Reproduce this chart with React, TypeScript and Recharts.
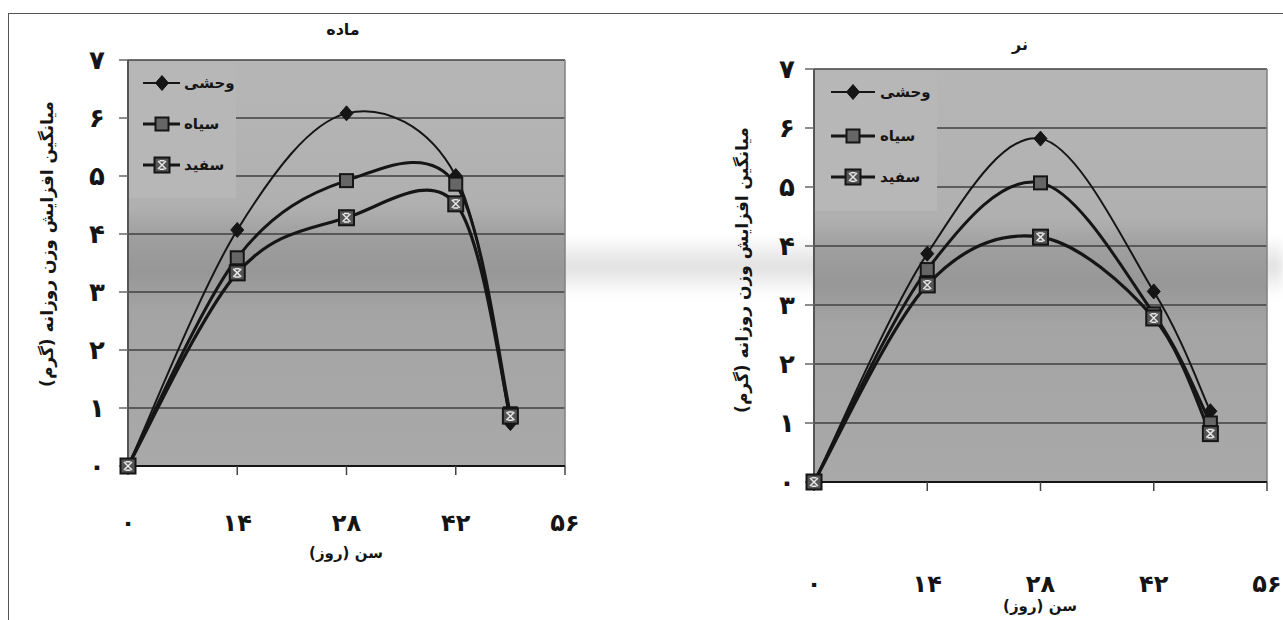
import React from 'react';
import { LineChart, Line, XAxis, YAxis, CartesianGrid, Legend, ReferenceLine } from 'recharts';

// ---------- data ----------
const days = [0, 14, 28, 42, 49];
const femaleWild = [0, 4.07, 6.08, 5.0, 0.74];
const femaleBlack = [0, 3.59, 4.92, 4.86, 0.9];
const femaleWhite = [0, 3.33, 4.28, 4.52, 0.86];
const maleWild = [0, 3.87, 5.82, 3.23, 1.2];
const maleBlack = [0, 3.6, 5.07, 2.85, 1.0];
const maleWhite = [0, 3.34, 4.15, 2.78, 0.82];

const seriesKeys = ['wild', 'black', 'white'];
const seriesNames = ['وحشی', 'سیاه', 'سفید'];
const xTicks = [0, 14, 28, 42, 56];
const xTickLabels = ['۰', '۱۴', '۲۸', '۴۲', '۵۶'];
const yTicks = [0, 1, 2, 3, 4, 5, 6, 7];
const yTickLabels = ['۰', '۱', '۲', '۳', '۴', '۵', '۶', '۷'];
const femaleTitle = 'ماده';
const maleTitle = 'نر';
const xAxisTitle = 'سن (روز)';
const yAxisTitle = 'میانگین افزایش وزن روزانه (گرم)';

const buildRows = (wild: number[], black: number[], white: number[]) =>
  days.map((d, i) => ({ day: d, wild: wild[i], black: black[i], white: white[i] }));

const femaleRows = buildRows(femaleWild, femaleBlack, femaleWhite);
const maleRows = buildRows(maleWild, maleBlack, maleWhite);

// ---------- styling ----------
const FONT = '"DejaVu Sans", "Noto Sans", sans-serif';
const INK = '#151515';

// Excel-like smoothed line (Catmull-Rom / cardinal tension 0)
function excelSmooth(context: any) {
  let pts: number[][] = [];
  return {
    areaStart() {},
    areaEnd() {},
    lineStart() {
      pts = [];
    },
    point(x: number, y: number) {
      pts.push([+x, +y]);
    },
    lineEnd() {
      const n = pts.length;
      if (!n) return;
      context.moveTo(pts[0][0], pts[0][1]);
      for (let i = 0; i < n - 1; i++) {
        const p0 = pts[i - 1] || pts[i];
        const p1 = pts[i];
        const p2 = pts[i + 1];
        const p3 = pts[i + 2] || pts[i + 1];
        context.bezierCurveTo(
          p1[0] + (p2[0] - p0[0]) / 6,
          p1[1] + (p2[1] - p0[1]) / 6,
          p2[0] - (p3[0] - p1[0]) / 6,
          p2[1] - (p3[1] - p1[1]) / 6,
          p2[0],
          p2[1]
        );
      }
    },
  };
}

function markerShape(kind: number, cx: number, cy: number, key?: string) {
  if (kind === 0) {
    return (
      <path
        key={key}
        d={`M${cx},${cy - 7.5} L${cx + 6.5},${cy} L${cx},${cy + 7.5} L${cx - 6.5},${cy} Z`}
        fill={INK}
        stroke={INK}
        strokeWidth={1}
      />
    );
  }
  if (kind === 1) {
    return (
      <rect key={key} x={cx - 6.5} y={cy - 6.5} width={13} height={13} fill="#666" stroke={INK} strokeWidth={2} />
    );
  }
  return (
    <g key={key}>
      <rect x={cx - 7.5} y={cy - 7.5} width={15} height={15} fill="#555" stroke={INK} strokeWidth={2} />
      <path
        d={`M${cx - 4},${cy - 4} L${cx + 4},${cy + 4} M${cx + 4},${cy - 4} L${cx - 4},${cy + 4} M${cx - 2.5},${cy - 4.2} L${cx + 2.5},${cy - 4.2} M${cx - 2.5},${cy + 4.2} L${cx + 2.5},${cy + 4.2}`}
        fill="none"
        stroke="#e6e6e6"
        strokeWidth={1.5}
      />
    </g>
  );
}

const dotRenderer = (kind: number) => (props: any) => {
  const { cx, cy, index } = props;
  if (cx == null || cy == null) return <g key={`e-${kind}-${index}`} />;
  return markerShape(kind, cx, cy, `m-${kind}-${index}`);
};

const lineWidths = [2, 3, 3.2];

type Cfg = {
  width: number;
  height: number;
  margin: { top: number; right: number; bottom: number; left: number };
  xAxisHeight: number;
  yLabelDx: number;
  xLabelDy: number;
  xTitle: { x: number; y: number };
  yTitle: { x: number; y: number };
  legend: { x: number; y: number; w: number; h: number; rows: number[]; lx1: number; lx2: number; mx: number; tx: number };
  gradId: string;
};

function GrowthChart({ rows, cfg }: { rows: any[]; cfg: Cfg }) {
  const lg = cfg.legend;
  const renderLegend = () => (
    <svg width={lg.w} height={lg.h} style={{ display: 'block' }}>
      <rect x={0} y={0} width={lg.w} height={lg.h} fill="#b7b7b7" />
      {seriesNames.map((name, i) => (
        <g key={name}>
          <line x1={lg.lx1} x2={lg.lx2} y1={lg.rows[i]} y2={lg.rows[i]} stroke={INK} strokeWidth={lineWidths[i]} />
          {markerShape(i, lg.mx, lg.rows[i])}
          <text x={lg.tx} y={lg.rows[i] + 5} fontSize={15} fontWeight="bold" fontFamily={FONT} fill={INK}>
            {name}
          </text>
        </g>
      ))}
    </svg>
  );

  const YTick = (p: any) => {
    const idx = yTicks.indexOf(p.payload.value);
    return (
      <text x={p.x + cfg.yLabelDx} y={p.y + 9} textAnchor="middle" fontSize={26} fontWeight="bold" fontFamily={FONT} fill={INK}>
        {yTickLabels[idx]}
      </text>
    );
  };
  const XTick = (p: any) => {
    const idx = xTicks.indexOf(p.payload.value);
    return (
      <text x={p.x} y={p.y + cfg.xLabelDy} textAnchor="middle" fontSize={24} fontWeight="bold" fontFamily={FONT} fill={INK}>
        {xTickLabels[idx]}
      </text>
    );
  };

  return (
    <LineChart width={cfg.width} height={cfg.height} data={rows} margin={cfg.margin}>
      <defs>
        <linearGradient id={cfg.gradId} x1="0" y1="0" x2="0" y2="1">
          <stop offset="0" stopColor="#b6b6b6" />
          <stop offset="0.36" stopColor="#b0b0b0" />
          <stop offset="0.44" stopColor="#9e9e9e" />
          <stop offset="0.52" stopColor="#979797" />
          <stop offset="0.62" stopColor="#a4a4a4" />
          <stop offset="1" stopColor="#a9a9a9" />
        </linearGradient>
      </defs>
      <CartesianGrid vertical={false} stroke="#404040" strokeWidth={1.6} fill={`url(#${cfg.gradId})`} fillOpacity={1} />
      <XAxis
        dataKey="day"
        type="number"
        domain={[0, 56]}
        ticks={xTicks}
        height={cfg.xAxisHeight}
        axisLine={{ stroke: INK, strokeWidth: 2 }}
        tickLine={{ stroke: '#444', strokeWidth: 1.5 }}
        tickSize={9}
        tick={XTick}
        interval={0}
        label={() => (
          <text x={cfg.xTitle.x} y={cfg.xTitle.y} textAnchor="middle" fontSize={15} fontWeight="bold" fontFamily={FONT} fill={INK}>
            {xAxisTitle}
          </text>
        )}
      />
      <YAxis
        type="number"
        domain={[0, 7]}
        ticks={yTicks}
        width={60}
        axisLine={{ stroke: '#555', strokeWidth: 2 }}
        tickLine={{ stroke: '#666', strokeWidth: 1.5 }}
        tickSize={9}
        tick={YTick}
        interval={0}
        label={() => (
          <text
            x={cfg.yTitle.x}
            y={cfg.yTitle.y}
            transform={`rotate(-90 ${cfg.yTitle.x} ${cfg.yTitle.y})`}
            textAnchor="middle"
            fontSize={17}
            fontWeight="bold"
            fontFamily={FONT}
            fill={INK}
          >
            {yAxisTitle}
          </text>
        )}
      />
      <ReferenceLine x={56} stroke="#808080" strokeWidth={1.5} />
      <Legend
        layout="vertical"
        align="center"
        verticalAlign="middle"
        content={renderLegend}
        wrapperStyle={{ left: lg.x, top: lg.y, width: lg.w, height: lg.h, margin: 0, padding: 0 }}
      />
      {seriesKeys.map((k, i) => (
        <Line
          key={k}
          dataKey={k}
          name={seriesNames[i]}
          type={excelSmooth as any}
          stroke={INK}
          strokeWidth={lineWidths[i]}
          dot={dotRenderer(i)}
          activeDot={false}
          isAnimationActive={false}
        />
      ))}
    </LineChart>
  );
}

const femaleCfg: Cfg = {
  width: 600,
  height: 620,
  margin: { top: 60, right: 35, bottom: 54, left: 68 },
  xAxisHeight: 100,
  yLabelDx: -20,
  xLabelDy: 54,
  xTitle: { x: 346, y: 558 },
  yTitle: { x: 53, y: 244 },
  legend: { x: 129, y: 63, w: 107, h: 135, rows: [20, 61, 102], lx1: 14, lx2: 51, mx: 33, tx: 55 },
  gradId: 'plotFillF',
};

const maleCfg: Cfg = {
  width: 643,
  height: 620,
  margin: { top: 69, right: 16, bottom: 8, left: 114 },
  xAxisHeight: 130,
  yLabelDx: -16,
  xLabelDy: 99,
  xTitle: { x: 400, y: 611 },
  yTitle: { x: 108, y: 270 },
  legend: { x: 175, y: 71, w: 122, h: 140, rows: [21, 65, 106], lx1: 16, lx2: 60, mx: 38, tx: 65 },
  gradId: 'plotFillM',
};

export default function App() {
  return (
    <div style={{ position: 'absolute', left: 0, top: 0, width: 1283, height: 620, background: '#fff', overflow: 'hidden' }}>
      <div
        style={{
          position: 'absolute',
          left: 555,
          top: 236,
          width: 728,
          height: 60,
          background: 'linear-gradient(to bottom, rgba(0,0,0,0), rgba(0,0,0,0.12) 50%, rgba(0,0,0,0))',
          filter: 'blur(4px)',
        }}
      />
      <div
        style={{
          position: 'absolute',
          left: 8,
          top: 13,
          width: 1275,
          height: 607,
          borderTop: '1.5px solid #555',
          borderLeft: '1.5px solid #555',
          boxSizing: 'border-box',
        }}
      />
      <div
        style={{
          position: 'absolute',
          left: 293,
          top: 19,
          width: 100,
          textAlign: 'center',
          fontFamily: FONT,
          fontWeight: 'bold',
          fontSize: 16,
          color: INK,
          lineHeight: '22px',
        }}
      >
        {femaleTitle}
      </div>
      <div
        style={{
          position: 'absolute',
          left: 970,
          top: 34,
          width: 100,
          textAlign: 'center',
          fontFamily: FONT,
          fontWeight: 'bold',
          fontSize: 16,
          color: INK,
          lineHeight: '22px',
        }}
      >
        {maleTitle}
      </div>
      <div style={{ position: 'absolute', left: 0, top: 0 }}>
        <GrowthChart rows={femaleRows} cfg={femaleCfg} />
      </div>
      <div style={{ position: 'absolute', left: 640, top: 0 }}>
        <GrowthChart rows={maleRows} cfg={maleCfg} />
      </div>
    </div>
  );
}
